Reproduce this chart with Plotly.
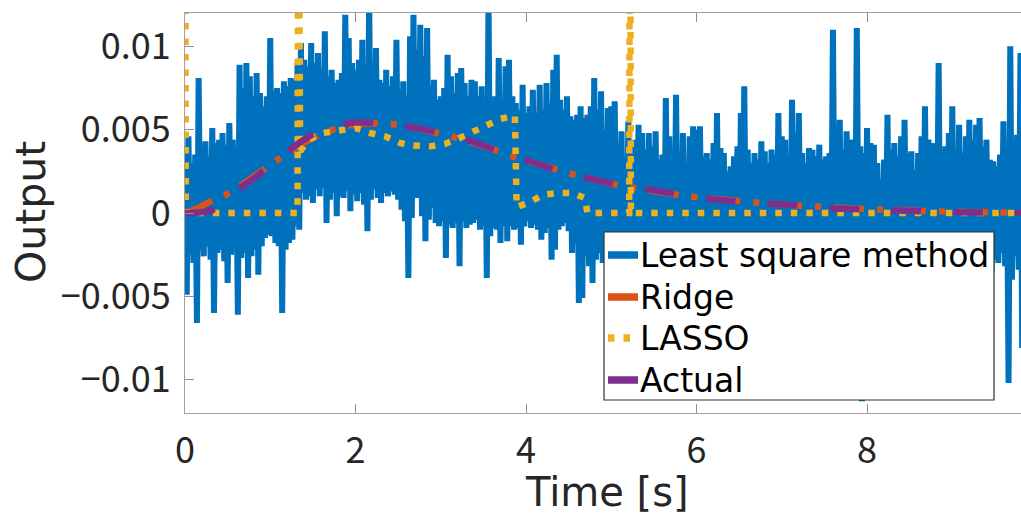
import plotly.graph_objects as go

# ---- data (output values in units of 1e-3) ----
DT = 0.02  # sample spacing of the least-squares estimate [s]

ls_vals = [
    # 0.0 - 1.32 s
    4.0, -4.9, 4.6, -2.5, 3.0, -3.0, 3.5, -6.6, 8.1, -2.2,
    3.2, -2.6, 4.3, -2.0, 3.4, -2.8, 5.1, -6.0, 4.2, -2.4,
    4.4, -2.2, 4.8, -2.9, 4.1, -4.2, 5.4, -2.5, 4.4, -2.0,
    4.0, -6.1, 8.9, -2.7, 7.5, -2.4, 9.0, -3.9, 8.2, -2.6,
    7.0, -2.2, 8.4, -3.7, 7.2, -2.0, 6.4, -1.5, 7.0, -1.3,
    10.5, -1.4, 7.3, -1.8, 7.5, -2.0, 7.2, -6.0, 7.9, -2.2,
    7.6, -1.8, 8.1, -1.6, 8.0, -0.8,
    # 1.32 - 3.92 s
    9.0, -1.0, 10.2, 1.2, 9.2, 0.8, 8.8, 1.0, 10.2, 0.6,
    9.0, 1.4, 9.6, 1.0, 8.6, 1.5, 10.9, -0.6, 8.2, 0.8,
    8.6, 1.2, 7.8, -0.2, 8.0, 1.0, 8.4, 0.9, 11.9, 1.3,
    10.5, 0.1, 9.0, 1.1, 8.6, 0.7, 9.2, 1.2, 10.4, 0.5,
    8.4, -1.1, 13.0, 0.8, 8.8, 1.4, 9.9, 0.9, 8.0, 0.6,
    7.8, 1.2, 8.6, 1.0, 7.6, 1.3, 8.2, 1.1, 10.4, 0.8,
    7.4, 0.2, 7.9, -0.5, 7.0, -3.9, 10.6, -0.3, 11.9, 0.9,
    9.8, 0.9, 11.3, -0.2, 9.4, -1.7, 11.1, -0.4, 7.6, 0.3,
    8.0, -0.6, 6.8, -0.8, 7.0, -0.5, 7.5, -2.7, 9.5, -0.7,
    8.2, -0.9, 7.2, -0.6, 8.4, -3.2, 8.7, -0.5, 7.8, -0.9,
    7.0, -0.7, 8.0, -0.6, 7.9, -0.4, 7.0, -1.0, 7.6, -0.8,
    6.8, -3.9, 13.0, -1.4, 6.6, -0.9, 7.0, -1.0, 9.3, -1.8,
    6.8, -0.8, 8.8, -1.7, 9.2, -0.8, 7.0, -1.0, 6.6, -0.9,
    # 3.92 - 4.92 s
    6.2, -1.9, 7.7, -0.8, 6.0, -0.5, 6.4, -0.9, 7.4, -0.7,
    6.0, -1.0, 7.7, -1.6, 6.2, -1.2, 7.8, -0.9, 6.6, -2.8,
    8.6, -2.2, 9.5, -1.0, 6.8, -0.8, 6.2, -0.6, 7.0, -1.1,
    5.8, -2.4, 5.6, -1.8, 5.9, -5.4, 6.4, -5.1, 5.7, -2.6,
    5.9, -3.2, 6.4, -4.2, 8.1, -2.8, 6.2, -2.4, 7.3, -3.0,
    # 4.92 - 9.82 s
    5.0, -3.0, 6.3, -2.6, 6.4, -3.4, 6.7, -2.2, 4.2, -3.6,
    4.9, -2.8, 3.4, -4.0, 5.5, -2.4, 3.6, -3.2, 4.4, -2.6,
    5.3, -3.8, 4.8, -2.2, 3.8, -3.0, 4.8, -4.4, 4.0, -2.5,
    4.9, -3.3, 3.2, -2.1, 3.5, -3.9, 6.9, -2.7, 4.6, -3.1,
    3.4, -2.4, 7.1, -4.6, 3.6, -2.8, 4.8, -3.5, 3.0, -2.3,
    4.6, -4.1, 5.2, -2.6, 5.0, -3.2, 5.2, -2.2, 3.4, -3.7,
    3.6, -2.9, 3.2, -2.4, 4.2, -4.8, 6.0, -2.7, 3.9, -3.3,
    3.6, -2.2, 2.5, -3.9, 2.8, -2.6, 3.4, -3.0, 4.0, -4.3,
    6.0, -2.4, 7.6, -3.1, 3.8, -2.7, 3.0, -3.8, 3.6, -2.3,
    3.2, -3.5, 4.3, -2.6, 3.7, -4.5, 3.0, -2.9, 3.8, -2.2,
    3.5, -3.6, 6.0, -2.8, 4.6, -3.2, 4.4, -2.4, 3.4, -4.0,
    6.8, -2.6, 4.8, -3.3, 6.0, -2.1, 3.6, -3.8, 3.0, -2.7,
    3.9, -3.1, 3.8, -4.4, 3.4, -2.5, 4.1, -3.4, 3.2, -2.3,
    3.4, -3.9, 3.6, -2.8, 11.0, -3.0, 4.2, -2.4, 5.6, -4.2,
    3.8, -2.6, 4.9, -3.3, 4.4, -2.2, 3.6, -3.7, 11.1, -2.9,
    4.0, -11.3, 3.6, -2.5, 5.1, -3.4, 4.2, -2.3, 4.1, -3.9,
    3.0, -2.6, 2.0, -3.2, 3.2, -2.4, 5.9, -4.1, 3.8, -2.8,
    4.2, -3.3, 3.4, -2.2, 4.6, -3.8, 5.6, -2.6, 3.6, -3.1,
    3.7, -4.4, 2.6, -2.4, 3.6, -3.0, 4.6, -2.7, 6.4, -3.6,
    4.4, -2.3, 4.2, -3.4, 3.4, -2.6, 9.0, -4.0, 3.6, -2.8,
    4.0, -3.2, 4.8, -2.2, 6.4, -3.7, 3.8, -2.5, 5.3, -3.0,
    3.6, -4.3, 4.6, -2.7, 5.6, -3.3, 4.4, -2.4, 5.3, -3.8,
    5.7, -2.6, 4.0, -3.1, 4.4, -2.2, 3.2, -3.6, 3.1, -2.8,
    2.8, -3.0, 3.5, -2.4, 5.5, -3.2, 4.0, -10.2, 10.0, -4.0,
    4.2, -2.6, 4.7, -3.4, 9.6, -8.1,
]
ls_t = [round(i * DT, 2) for i in range(len(ls_vals))]

ridge_t = [0.0, 0.15, 0.3, 0.5, 0.7, 0.95, 1.2, 1.5, 1.8, 2.1, 2.4, 2.7,
           3.0, 3.3, 3.6, 3.9, 4.2, 4.5, 4.8, 5.1, 5.4, 5.7, 6.0, 6.5,
           7.0, 7.5, 8.0, 8.5, 9.0, 9.5, 9.81]
ridge_vals = [0.0, 0.3, 0.7, 1.15, 1.8, 2.7, 3.6, 4.5, 5.1, 5.35, 5.35, 5.1,
              4.75, 4.35, 3.85, 3.3, 2.85, 2.4, 2.0, 1.65, 1.4, 1.15, 0.95, 0.72,
              0.52, 0.36, 0.24, 0.15, 0.08, 0.04, 0.02]

lasso_t = [0.0, 0.01, 1.32, 1.33, 1.35, 1.45, 1.62, 1.82, 2.0, 2.17, 2.35,
           2.52, 2.68, 2.88, 3.05, 3.2, 3.38, 3.54, 3.7, 3.87, 3.89, 4.05,
           4.2, 4.38, 4.54, 4.69, 4.72, 5.21, 5.22, 5.23, 9.81]
lasso_vals = [30.0, 0.0, 0.0, 30.0, 3.7, 4.4, 4.8, 5.0, 5.1, 4.8, 4.6,
              4.2, 4.05, 4.0, 4.15, 4.45, 4.9, 5.3, 5.65, 5.85, 0.36, 0.66,
              1.1, 1.2, 1.2, 0.9, 0.0, 0.0, 30.0, 0.0, 0.0]

actual_t = [0.0, 0.15, 0.33, 0.5, 0.65, 0.8, 0.94, 1.1, 1.23, 1.49, 1.7,
            1.85, 2.05, 2.2, 2.58, 2.91, 3.25, 3.6, 3.93, 4.28, 4.64, 4.99,
            5.34, 5.69, 6.07, 6.42, 6.78, 7.14, 7.51, 7.86, 8.2, 8.57, 8.94,
            9.3, 9.81]
actual_vals = [0.0, 0.03, 0.2, 0.8, 1.5, 2.05, 2.6, 3.25, 3.8, 4.7, 5.15,
               5.35, 5.45, 5.4, 5.2, 4.9, 4.5, 3.85, 3.3, 2.7, 2.2, 1.8,
               1.5, 1.2, 0.9, 0.72, 0.6, 0.48, 0.3, 0.24, 0.18, 0.12, 0.06,
               0.03, 0.01]

SCALE = 1e-3
x_ticks = [0, 2, 4, 6, 8]
y_ticks = [-0.01, -0.005, 0, 0.005, 0.01]
y_ticktext = ["\u22120.01", "\u22120.005", "0", "0.005", "0.01"]
series_names = ["Least square method", "Ridge", "LASSO", "Actual"]

TICK_FONT = "Noto Sans CJK JP"
TEXT_FONT = "DejaVu Sans"
BLUE, ORANGE, YELLOW, PURPLE = "#0072BD", "#D95319", "#EDB120", "#7E2F8E"
colors = [BLUE, ORANGE, YELLOW, PURPLE]
DOTS = "6.5px,9px"

fig = go.Figure()
fig.add_trace(go.Scatter(
    x=ls_t, y=[v * SCALE for v in ls_vals], mode="lines",
    name=series_names[0], line=dict(color=BLUE, width=6)))
fig.add_trace(go.Scatter(
    x=ridge_t, y=[v * SCALE for v in ridge_vals], mode="lines",
    name=series_names[1], line=dict(color=ORANGE, width=6.5, shape="spline",
                                    dash="30px,13px,6px,13px")))
fig.add_trace(go.Scatter(
    x=lasso_t, y=[v * SCALE for v in lasso_vals], mode="lines",
    name=series_names[2], line=dict(color=YELLOW, width=6.5, dash=DOTS)))
fig.add_trace(go.Scatter(
    x=actual_t, y=[v * SCALE for v in actual_vals], mode="lines",
    name=series_names[3], line=dict(color=PURPLE, width=6.5, shape="spline",
                                    dash="30px,32px")))
fig.update_traces(showlegend=False)

axis_common = dict(
    showgrid=False, zeroline=False, showline=True,
    linecolor="#a0a0a0", linewidth=1.2,
    ticks="inside", ticklen=9, tickwidth=1, tickcolor="#909090",
    tickfont=dict(family=TICK_FONT, size=36, color="#262626"),
)
fig.update_xaxes(range=[0, 9.806], tickvals=x_ticks, mirror="ticks",
                 ticklabelstandoff=6, **axis_common)
fig.update_yaxes(range=[-0.012, 0.012], tickvals=y_ticks, ticktext=y_ticktext,
                 ticklabelstandoff=6, **axis_common)

# legend box drawn in paper coordinates (plot area: 836 x 400 px)
PW, PH = 836.0, 400.0
def px_x(px):
    return (px - 185) / PW
def px_y(py):
    return (413 - py) / PH

shapes = [dict(type="rect", xref="paper", yref="paper", layer="above",
               x0=px_x(604), x1=px_x(994), y0=px_y(400), y1=px_y(232),
               fillcolor="white", line=dict(color="#303030", width=1.2))]
annotations = []
row_y = [255, 297, 338, 380]
for name, col, ry in zip(series_names, colors, row_y):
    shapes.append(dict(type="line", xref="paper", yref="paper", layer="above",
                       x0=px_x(608), x1=px_x(638), y0=px_y(ry), y1=px_y(ry),
                       line=dict(color=col, width=7.5,
                                 dash=DOTS if name == "LASSO" else "solid")))
    annotations.append(dict(text=name, xref="paper", yref="paper",
                            x=px_x(638), y=px_y(ry), xanchor="left",
                            yanchor="middle", showarrow=False,
                            font=dict(family=TEXT_FONT, size=33, color="black")))

annotations += [
    dict(text="Time [s]", xref="paper", yref="paper", x=px_x(607), y=px_y(492),
         xanchor="center", yanchor="middle", showarrow=False,
         font=dict(family=TEXT_FONT, size=40, color="#262626")),
    dict(text="Output", xref="paper", yref="paper", x=px_x(31), y=px_y(212),
         xanchor="center", yanchor="middle", showarrow=False, textangle=-90,
         font=dict(family=TEXT_FONT, size=41, color="#262626")),
]

fig.update_layout(
    width=1021, height=518,
    margin=dict(l=185, r=0, t=13, b=105),
    plot_bgcolor="white", paper_bgcolor="white",
    showlegend=False,
    shapes=shapes,
    annotations=annotations,
)

fig.write_html("out.html")
